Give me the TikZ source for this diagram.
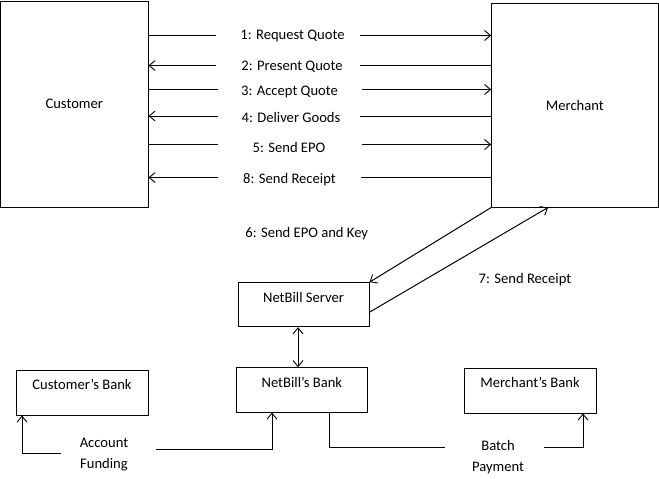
\documentclass[tikz,border=0pt]{standalone}
\usepackage{fontspec}
\setmainfont{Carlito}
\usetikzlibrary{arrows.meta}
\begin{document}
\begin{tikzpicture}[x=1pt,y=-1pt,
  every node/.style={font=\fontsize{14.6}{21}\selectfont, inner sep=0pt},
  box/.style={draw, line width=1pt, inner sep=0pt},
  ln/.style={line width=1pt},
  arr/.style={line width=1pt, -{Straight Barb[length=6pt,width=10pt,line width=0.9pt]}},
  darr/.style={line width=1pt, {Straight Barb[length=6pt,width=10pt,line width=0.9pt]}-{Straight Barb[length=6pt,width=10pt,line width=0.9pt]}},
  boxlabel/.style={anchor=center, yshift=-15pt}
]
\useasboundingbox (0,0) rectangle (659,479);

% main boxes
\node[box, minimum width=147.5pt, minimum height=206pt] (cust) at (74.25,104) {Customer};
\node[box, minimum width=166.3pt, minimum height=203.3pt] (merch) at (574.85,105.35) {Merchant};

% small boxes
\node[box, minimum width=131pt, minimum height=44pt,
  label={[boxlabel]north:NetBill Server}] (ns) at (303.5,304.7) {};
\node[box, minimum width=130.3pt, minimum height=44.3pt,
  label={[boxlabel]north:NetBill’s Bank}] (nb) at (301.85,389.85) {};
\node[box, minimum width=132pt, minimum height=45pt,
  label={[boxlabel]north:Customer’s Bank}] (cb) at (82,392.5) {};
\node[box, minimum width=132pt, minimum height=45pt,
  label={[boxlabel]north:Merchant’s Bank}] (mb) at (530,390.5) {};

% message coordinates (gap ends)
\coordinate (g1a) at (216,35.5);   \coordinate (g1b) at (360,35.5);
\coordinate (g2a) at (216,65.5);   \coordinate (g2b) at (360,65.5);
\coordinate (g3a) at (218,89.5);   \coordinate (g3b) at (362,89.5);
\coordinate (g4a) at (218,116);    \coordinate (g4b) at (360,116);
\coordinate (g5a) at (218,144.5);  \coordinate (g5b) at (362,144.5);
\coordinate (g8a) at (218,177.5);  \coordinate (g8b) at (361,177.5);

% 1: Request Quote (to merchant)
\draw[ln] (cust.east |- g1a) -- (g1a);
\draw[arr] (g1b) -- (merch.west |- g1b);
\node (t1) at (292.5,36) {1: Request Quote};
% 2: Present Quote (to customer)
\draw[arr] (g2a) -- (cust.east |- g2a);
\draw[ln] (g2b) -- (merch.west |- g2b);
\node (t2) at (292,67) {2: Present Quote};
% 3: Accept Quote
\draw[ln] (cust.east |- g3a) -- (g3a);
\draw[arr] (g3b) -- (merch.west |- g3b);
\node (t3) at (289.5,91.5) {3: Accept Quote};
% 4: Deliver Goods
\draw[arr] (g4a) -- (cust.east |- g4a);
\draw[ln] (g4b) -- (merch.west |- g4b);
\node (t4) at (291,117) {4: Deliver Goods};
% 5: Send EPO
\draw[ln] (cust.east |- g5a) -- (g5a);
\draw[arr] (g5b) -- (merch.west |- g5b);
\node (t5) at (289,147) {5: Send EPO};
% 8: Send Receipt
\draw[arr] (g8a) -- (cust.east |- g8a);
\draw[ln] (g8b) -- (merch.west |- g8b);
\node (t8) at (289.5,180) {8: Send Receipt};

% 6 and 7
\coordinate (m7) at (548,0);
\draw[arr] (merch.south west) -- (ns.north east);
\draw[arr] ([yshift=-7.5pt]ns.east) -- (merch.south -| m7);
\node (t6) at (306.7,233.3) {6: Send EPO and Key};
\node (t7) at (525,279.3) {7: Send Receipt};

% server <-> NetBill's bank
\coordinate (dd) at (298,345);
\draw[darr] (ns.south -| dd) -- (nb.north -| dd);

% Account Funding
\coordinate (af1) at (22,453);
\coordinate (af2) at (61,453);
\coordinate (af3) at (156,449);
\coordinate (af4) at (272,449);
\draw[arr] (af2) -- (af1) -- (cb.south -| af1);
\draw[arr] (af3) -- (af4) -- (nb.south -| af4);
\node[align=center] (taf) at (104,454.5) {Account\\Funding};

% Batch Payment
\coordinate (bp1) at (329,447);
\coordinate (bp2) at (445,447);
\coordinate (bp3) at (544,447);
\coordinate (bp4) at (583,447);
\draw[ln] (nb.south -| bp1) -- (bp1) -- (bp2);
\draw[arr] (bp3) -- (bp4) -- (mb.south -| bp4);
\node[align=center] (tbp) at (498,457.5) {Batch\\Payment};
\end{tikzpicture}
\end{document}
